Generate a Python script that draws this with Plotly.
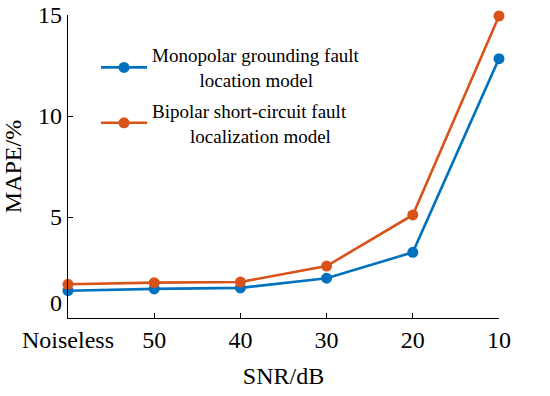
import plotly.graph_objects as go

categories = ["Noiseless", "50", "40", "30", "20", "10"]
mono_mape = [1.35, 1.44, 1.49, 1.97, 3.25, 12.84]
bipolar_mape = [1.67, 1.75, 1.78, 2.57, 5.1, 14.95]
y_ticks = [0, 5, 10, 15]
y_tick_text = ["0<br>\u00a0", "5", "10", "15"]

FONT = "Liberation Serif"
BLUE = "#0072BD"
ORANGE = "#D95319"
NB = "\u00a0"

fig = go.Figure()
fig.add_trace(go.Scatter(
    x=categories, y=mono_mape, mode="lines+markers",
    name="Monopolar grounding fault<br>" + NB * 10 + "location model",
    legendgroup="a",
    line=dict(color=BLUE, width=2.6), marker=dict(color=BLUE, size=11),
    cliponaxis=False))
fig.add_trace(go.Scatter(
    x=categories, y=bipolar_mape, mode="lines+markers",
    name="Bipolar short-circuit fault<br>" + NB * 8 + "localization model",
    legendgroup="b",
    line=dict(color=ORANGE, width=2.6), marker=dict(color=ORANGE, size=11),
    cliponaxis=False))

fig.update_layout(
    width=550, height=396,
    margin=dict(l=68, r=51, t=15, b=78),
    paper_bgcolor="white", plot_bgcolor="white",
    font=dict(family=FONT, size=24, color="black"),
    showlegend=True,
    legend=dict(x=0.065, y=0.93, xanchor="left", yanchor="top",
                font=dict(family=FONT, size=19, color="black"),
                bgcolor="rgba(0,0,0,0)", itemwidth=46, tracegroupgap=3),
)
fig.update_xaxes(
    type="category", range=[0, 5], automargin=False, ticklabeloverflow="allow",
    showline=True, linecolor="black", linewidth=1.2,
    ticks="inside", ticklen=5, tickcolor="black", showgrid=False, zeroline=False,
    tickfont=dict(family=FONT, size=24),
    title=dict(text="SNR/dB", font=dict(family=FONT, size=24)),
)
fig.update_yaxes(
    range=[0, 15], tickvals=y_ticks, ticktext=y_tick_text, automargin=False,
    ticklabeloverflow="allow",
    showline=True, linecolor="black", linewidth=1.2,
    ticks="inside", ticklen=5, tickcolor="black", showgrid=False, zeroline=False,
    tickfont=dict(family=FONT, size=24),
    title=dict(text="MAPE/%", font=dict(family=FONT, size=24)),
)

fig.write_html("out.html", config={"displayModeBar": False},
               post_script="document.body.style.margin='0';")
